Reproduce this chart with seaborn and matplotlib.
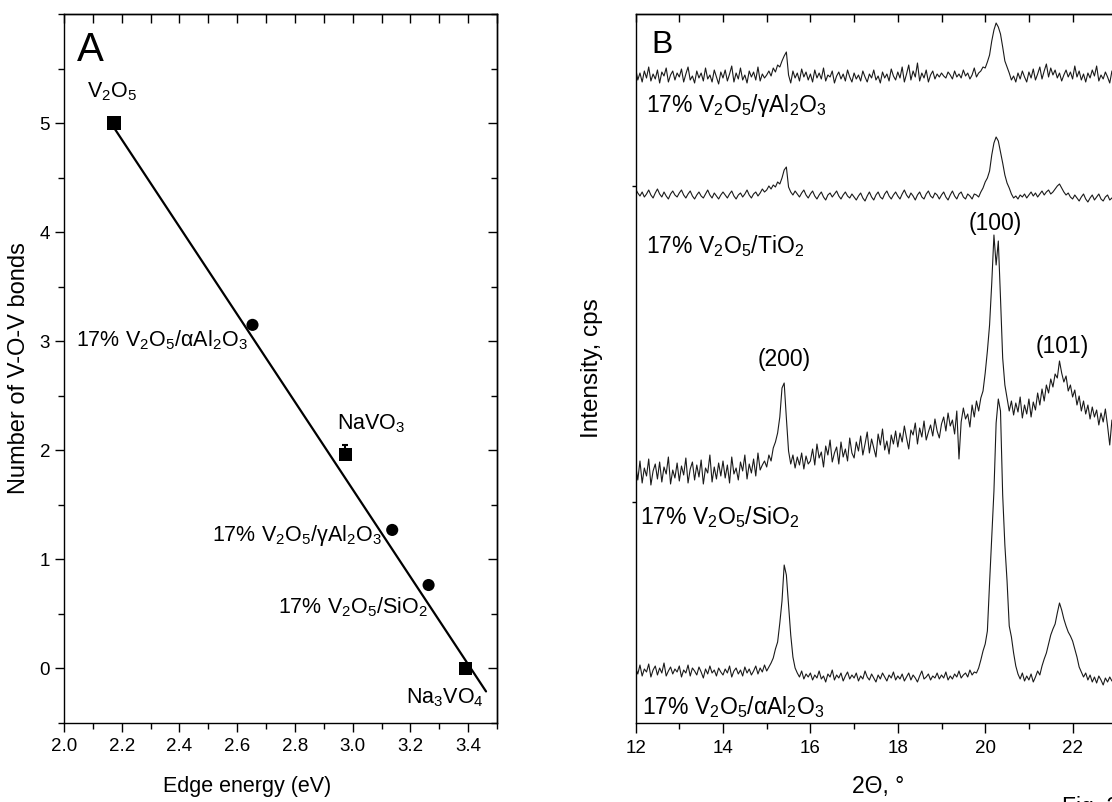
import numpy as np
import pandas as pd
import matplotlib
matplotlib.use("Agg")
import matplotlib.pyplot as plt
from matplotlib.ticker import MultipleLocator, FixedLocator, NullFormatter
import seaborn as sns

# ---------------- Panel A data ----------------
samples = ["V2O5", "17% V2O5/aAl2O3", "NaVO3", "17% V2O5/gAl2O3", "17% V2O5/SiO2", "Na3VO4"]
sample_labels = [r"V$_2$O$_5$", r"17% V$_2$O$_5$/αAl$_2$O$_3$", r"NaVO$_3$",
                 r"17% V$_2$O$_5$/γAl$_2$O$_3$", r"17% V$_2$O$_5$/SiO$_2$", r"Na$_3$VO$_4$"]
edge_energy = [2.173, 2.653, 2.974, 3.137, 3.263, 3.392]
vov_bonds = [5.0, 3.15, 1.96, 1.27, 0.765, 0.0]
sample_kind = ["reference", "supported", "reference", "supported", "supported", "reference"]
vov_err_up = [0, 0, 0.09, 0, 0, 0]
fit_slope = -4.01
fit_intercept = 13.672
fit_range = [2.175, 3.462]

# ---------------- Panel B data (XRD, 2-theta scan) ----------------
scan_start = 12.0
scan_step = 0.05
pattern_names = ["17% V2O5/gAl2O3", "17% V2O5/TiO2", "17% V2O5/SiO2", "17% V2O5/aAl2O3"]
pattern_labels = [r"17% V$_2$O$_5$/γAl$_2$O$_3$", r"17% V$_2$O$_5$/TiO$_2$",
                  r"17% V$_2$O$_5$/SiO$_2$", r"17% V$_2$O$_5$/αAl$_2$O$_3$"]
int_gamma = [
    655, 643, 650, 641, 652, 645, 656, 642, 649, 644, 653, 640, 651, 647, 655, 641, 648, 652, 643, 650,
    646, 654, 641, 649, 656, 643, 647, 640, 652, 645, 650, 642, 655, 644, 648, 641, 653, 646, 639, 651,
    645, 653, 642, 649, 657, 641, 650, 644, 655, 643, 648, 640, 652, 646, 651, 643, 656, 642, 649, 645,
    648, 652, 647, 655, 651, 658, 656, 662, 667, 671, 648, 640, 652, 645, 650, 642, 654, 646, 651, 643,
    649, 641, 653, 645, 650, 644, 655, 642, 648, 646, 652, 640, 647, 651, 644, 649, 642, 653, 646, 641,
    650, 644, 648, 642, 652, 646, 641, 649, 645, 653, 643, 647, 640, 651, 645, 649, 642, 654, 647, 643,
    651, 645, 656, 641, 649, 658, 643, 652, 646, 660, 642, 650, 645, 653, 641, 648, 652, 644, 649, 646,
    650, 647, 645, 651, 648, 644, 652, 646, 649, 645, 653, 647, 650, 644, 648, 655, 646, 650, 652, 656,
    655, 661, 668, 682, 693, 700, 696, 689, 676, 662, 656, 650, 643, 647, 641, 650, 644, 652, 646, 641,
    651, 645, 654, 643, 649, 656, 644, 652, 659, 646, 655, 648, 653, 645, 650, 642, 648, 653, 646, 651,
    644, 657, 646, 652, 643, 649, 641, 650, 645, 653, 647, 657, 642, 648, 644, 651, 646, 640, 652, 645,
    649]
int_tio2 = [
    534, 530, 527, 531, 526, 529, 533, 528, 525, 530, 534, 529, 526, 531, 527, 524, 529, 532, 528, 526,
    530, 533, 528, 525, 529, 532, 527, 524, 528, 531, 527, 525, 529, 533, 528, 525, 530, 527, 524, 528,
    531, 528, 525, 529, 532, 527, 524, 528, 530, 526, 529, 533, 528, 525, 529, 531, 527, 530, 534, 531,
    533, 537, 534, 538, 536, 541, 539, 545, 553, 556, 536, 531, 528, 532, 529, 526, 530, 533, 528, 525,
    529, 532, 527, 524, 528, 531, 526, 523, 528, 530, 526, 529, 532, 527, 524, 528, 531, 527, 525, 529,
    526, 523, 527, 530, 525, 522, 527, 531, 526, 523, 528, 531, 526, 524, 529, 532, 527, 524, 528, 531,
    527, 524, 529, 533, 528, 525, 530, 527, 523, 528, 531, 526, 524, 529, 532, 527, 525, 530, 528, 524,
    528, 531, 526, 523, 528, 532, 527, 524, 529, 531, 526, 524, 529, 527, 524, 529, 528, 526, 531, 535,
    541, 545, 552, 568, 580, 586, 582, 571, 560, 548, 540, 535, 529, 525, 527, 524, 528, 526, 529, 525,
    528, 531, 527, 530, 526, 529, 532, 528, 531, 533, 529, 531, 534, 537, 539, 535, 531, 528, 530, 526,
    524, 528, 525, 522, 526, 529, 524, 521, 525, 528, 523, 526, 529, 524, 522, 526, 528, 523, 525, 527,
    524]
int_sio2 = [
    258, 243, 262, 240, 255, 247, 264, 238, 252, 259, 244, 261, 241, 256, 249, 266, 239, 253, 245, 260,
    242, 257, 248, 265, 240, 254, 261, 243, 258, 246, 263, 239, 255, 250, 268, 241, 256, 244, 260, 247,
    262, 245, 258, 240, 266, 249, 255, 243, 261, 252, 268, 244, 259, 250, 264, 247, 270, 253, 258, 262,
    256, 268, 262, 275, 281, 290, 306, 335, 340, 305, 272, 259, 268, 255, 266, 258, 270, 254, 267, 259,
    262, 274, 258, 279, 265, 271, 256, 277, 268, 283, 261, 270, 276, 259, 281, 266, 274, 262, 285, 270,
    265, 281, 272, 287, 268, 279, 291, 270, 284, 275, 266, 289, 278, 294, 273, 282, 269, 288, 279, 292,
    276, 290, 281, 297, 285, 274, 293, 288, 300, 279, 295, 286, 302, 283, 291, 298, 287, 304, 292, 285,
    299, 306, 292, 310, 297, 303, 289, 312, 264, 301, 315, 304, 309, 296, 318, 306, 322, 312, 325, 332,
    350, 372, 398, 440, 488, 458, 482, 425, 365, 338, 325, 312, 322, 308, 320, 311, 326, 305, 318, 309,
    324, 306, 321, 313, 330, 318, 334, 322, 338, 330, 344, 336, 349, 345, 362, 350, 341, 347, 332, 338,
    326, 333, 318, 327, 312, 322, 309, 318, 304, 316, 306, 313, 298, 310, 301, 314, 297, 278, 303, 300,
    302]
int_alpha = [
    55, 49, 58, 47, 54, 51, 59, 46, 53, 57, 48, 55, 50, 60, 47, 52, 56, 49, 54, 51,
    57, 46, 53, 50, 58, 47, 55, 52, 48, 56, 51, 45, 54, 49, 57, 50, 53, 47, 55, 51,
    48, 54, 50, 57, 46, 52, 55, 49, 53, 47, 56, 50, 54, 48, 52, 57, 49, 55, 51, 58,
    52, 56, 60, 65, 74, 81, 100, 122, 158, 148, 118, 88, 66, 55, 50, 46, 52, 44, 49, 46,
    50, 43, 48, 45, 52, 44, 47, 41, 49, 46, 53, 43, 48, 45, 50, 42, 47, 51, 44, 48,
    45, 50, 42, 47, 44, 52, 46, 43, 49, 45, 41, 48, 44, 50, 46, 42, 48, 45, 51, 43,
    47, 44, 49, 42, 46, 50, 43, 48, 45, 41, 47, 52, 44, 46, 49, 43, 47, 45, 50, 44,
    48, 45, 51, 43, 47, 44, 49, 46, 52, 45, 48, 50, 46, 53, 48, 51, 50, 55, 63, 72,
    79, 92, 140, 185, 232, 300, 324, 312, 228, 178, 142, 97, 86, 70, 57, 49, 44, 50, 42, 47,
    43, 49, 41, 46, 52, 48, 57, 64, 70, 79, 88, 94, 99, 110, 120, 113, 104, 97, 91, 87,
    82, 74, 66, 56, 51, 46, 50, 43, 48, 41, 46, 40, 47, 43, 38, 45, 41, 46, 42, 44,
    43]
peak_labels = ["(200)", "(100)", "(101)"]
intensity_ticks = [221, 537]

# ---------------- style ----------------
sns.set_theme(style="ticks", rc={
    "axes.edgecolor": "black", "axes.labelcolor": "black", "text.color": "black",
    "xtick.color": "black", "ytick.color": "black", "axes.linewidth": 1.0,
})
plt.rcParams["font.family"] = ["Liberation Sans", "DejaVu Sans"]
plt.rcParams["mathtext.fontset"] = "custom"
plt.rcParams["mathtext.rm"] = "Liberation Sans"
plt.rcParams["mathtext.it"] = "Liberation Sans:italic"
plt.rcParams["mathtext.bf"] = "Liberation Sans:bold"
plt.rcParams["mathtext.default"] = "regular"

W, H = 1112, 802
fig = plt.figure(figsize=(W / 100, H / 100), dpi=100)
axA = fig.add_axes([64 / W, 1 - 723 / H, 433 / W, 709 / H])
axB = fig.add_axes([635.6 / W, 1 - 723 / H, 13 * 43.7 / W, 709 / H])

# ---------------- Panel A ----------------
dfA = pd.DataFrame({"E": edge_energy, "n": vov_bonds, "kind": sample_kind})
fit_x = np.array(fit_range)
fit_y = fit_intercept + fit_slope * fit_x
sns.lineplot(x=fit_x, y=fit_y, ax=axA, color="black", lw=1.6, zorder=2)
axA.errorbar(edge_energy, vov_bonds, yerr=[[0] * len(vov_err_up), vov_err_up], fmt="none",
             ecolor="black", elinewidth=1.5, capsize=2.5, capthick=1.5, zorder=3)
sns.scatterplot(data=dfA, x="E", y="n", style="kind", size="kind",
                markers={"reference": "s", "supported": "o"},
                sizes={"reference": 92, "supported": 76},
                color="black", edgecolor="black", linewidth=0, legend=False, ax=axA, zorder=4)

axA.set_xlim(2.0, 3.5)
axA.set_ylim(-0.5, 6.0)
axA.xaxis.set_major_locator(MultipleLocator(0.2))
axA.xaxis.set_minor_locator(MultipleLocator(0.1))
axA.yaxis.set_major_locator(FixedLocator([0, 1, 2, 3, 4, 5]))
axA.yaxis.set_minor_locator(MultipleLocator(0.5))
axA.xaxis.set_major_formatter(matplotlib.ticker.FormatStrFormatter("%.1f"))
axA.tick_params(which="major", direction="out", length=6.5, width=1.0, labelsize=13.5, top=False, right=False)
axA.tick_params(axis="x", which="major", pad=4.5)
axA.tick_params(axis="y", which="major", pad=3.5)
axA.tick_params(which="minor", direction="out", length=4, width=1.0, top=False, right=False)
secAx = axA.secondary_xaxis("top")
secAx.xaxis.set_major_locator(MultipleLocator(0.1))
secAx.xaxis.set_major_formatter(NullFormatter())
secAx.tick_params(direction="in", length=6.5, width=1.0)
secAy = axA.secondary_yaxis("right")
secAy.yaxis.set_major_locator(FixedLocator([0, 1, 2, 3, 4, 5]))
secAy.yaxis.set_minor_locator(MultipleLocator(0.5))
secAy.yaxis.set_major_formatter(NullFormatter())
secAy.tick_params(which="major", direction="in", length=6.5, width=1.0)
secAy.tick_params(which="minor", direction="in", length=4, width=1.0)

axA.set_xlabel("Edge energy (eV)", fontsize=15.5)
axA.set_ylabel("Number of V-O-V bonds", fontsize=17)
axA.xaxis.set_label_coords(0.4226, -0.0889)
axA.xaxis.label.set_va("center")
axA.yaxis.set_label_coords(-0.104, 0.5)
axA.yaxis.label.set_va("center")

label_pos_A = [(2.0795, 5.233), (2.0415, 2.95), (2.944, 2.19),
               (2.5116, 1.172), (2.743, 0.502), (3.186, -0.32)]
for lab, (tx, ty) in zip(sample_labels, label_pos_A):
    axA.text(tx, ty, lab, fontsize=15.5, ha="left", va="baseline")
axA.text(0.030, 0.934, "A", transform=axA.transAxes, fontsize=29, ha="left", va="baseline")

# ---------------- Panel B ----------------
series = [int_gamma, int_tio2, int_sio2, int_alpha]
frames = []
for name, vals in zip(pattern_names, series):
    tt = np.round(scan_start + scan_step * np.arange(len(vals)), 2)
    frames.append(pd.DataFrame({"two_theta": tt, "intensity": vals, "pattern": name}))
dfB = pd.concat(frames, ignore_index=True)
sns.lineplot(data=dfB, x="two_theta", y="intensity", units="pattern", estimator=None,
             color="#1a1a1a", lw=0.8, ax=axB)

axB.set_xlim(12, 25)
axB.set_ylim(0, 709)
axB.xaxis.set_major_locator(FixedLocator([12, 14, 16, 18, 20, 22]))
axB.xaxis.set_minor_locator(MultipleLocator(1))
axB.yaxis.set_major_locator(FixedLocator(intensity_ticks))
axB.yaxis.set_major_formatter(NullFormatter())
axB.tick_params(axis="x", which="major", direction="out", length=7.5, width=1.0, labelsize=13.5, pad=4.5, top=False)
axB.tick_params(axis="x", which="minor", direction="out", length=4, width=1.0, top=False)
axB.tick_params(axis="y", which="major", direction="out", length=3, width=1.0, right=False)
secBx = axB.secondary_xaxis("top")
secBx.xaxis.set_major_locator(MultipleLocator(1))
secBx.xaxis.set_major_formatter(NullFormatter())
secBx.tick_params(direction="in", length=6, width=1.0)

axB.set_xlabel("2Θ, °", fontsize=16.5)
axB.set_ylabel("Intensity, cps", fontsize=17.5)
axB.xaxis.set_label_coords(0.4268, -0.0889)
axB.xaxis.label.set_va("center")
axB.yaxis.set_label_coords(-0.0768, 0.5)
axB.yaxis.label.set_va("center")

label_pos_B = [(12.231, 611), (12.238, 470), (12.10, 199), (12.146, 9)]
for lab, (tx, ty) in zip(pattern_labels, label_pos_B):
    axB.text(tx, ty, lab, fontsize=16.5, ha="left", va="baseline")
peak_pos_B = [(15.41, 357), (20.22, 493), (21.755, 370)]
for lab, (tx, ty) in zip(peak_labels, peak_pos_B):
    axB.text(tx, ty, lab, fontsize=16.5, ha="center", va="baseline")
axB.text(0.027, 0.945, "B", transform=axB.transAxes, fontsize=23, ha="left", va="baseline")

fig.text(1062 / W, (802 - 813.6) / H, "Fig. 3", fontsize=16.5, ha="left", va="baseline")

fig.savefig("out.png", dpi=100)
